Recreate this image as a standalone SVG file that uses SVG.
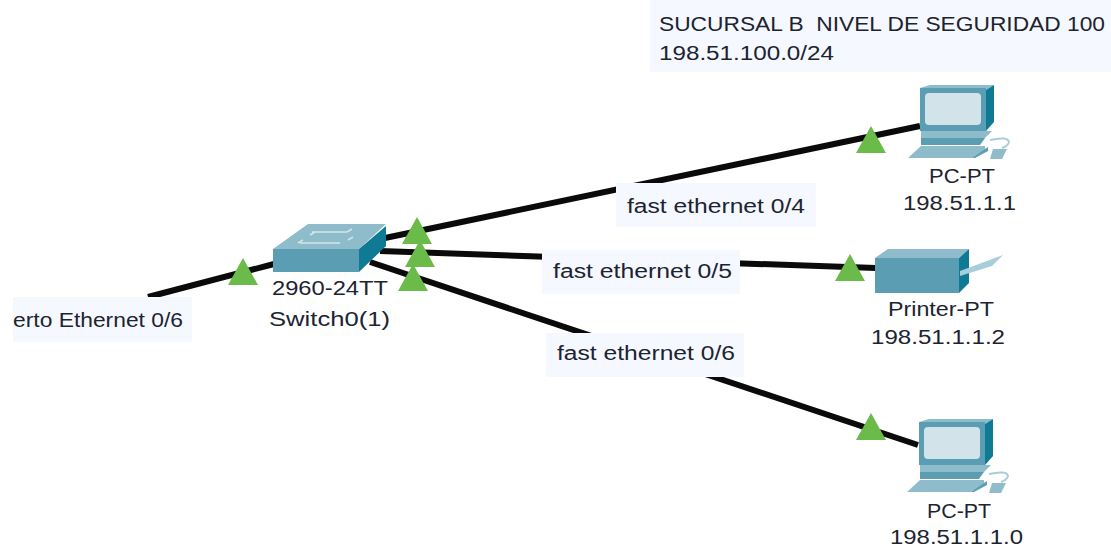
<svg xmlns="http://www.w3.org/2000/svg" width="1111" height="550" viewBox="0 0 1111 550">
<style>
text{font-family:"Liberation Sans",Arial,sans-serif;font-size:20px;fill:#1c2430;white-space:pre}
.lb{fill:#f6f8ff}
.ln{stroke:#0a0a0a;stroke-width:6;fill:none}
.tr{fill:#6bbb4a}
.a{fill:#5b9db2}.b{fill:#8fbccb}.c{fill:#0f7a94}.d{fill:#d3e3ea}.e{fill:#a9cdd9}
</style>
<defs>
<g id="pc">
<path class="b" d="M920 88L930 85H994L986 90Z"/>
<path class="c" d="M986 90L994 85V122L986 131Z"/>
<rect class="a" x="920" y="88" width="66" height="43"/>
<rect class="d" x="925" y="93" width="56" height="32" rx="4"/>
<path class="b" d="M921 131H992L985 138H921Z"/>
<path class="a" d="M921 138H985L980 145H921Z"/>
<path class="b" d="M921 146H985V150L972 158H908Z"/>
<path class="a" d="M972 158L988 147V151L975 158Z"/>
<path d="M990 140Q1008 136 1009 142Q1008 146 1002 148" fill="none" stroke="#a9cdd9" stroke-width="2"/>
<path class="b" d="M993 149H1007L1002 159H990Z"/>
</g>
</defs>
<rect width="1111" height="550" fill="#fff"/>
<rect class="lb" x="650" y="0" width="461" height="72"/>
<g id="connectors">
<path class="ln" d="M148 297L274 264"/>
<path class="ln" d="M385 238L920 126"/>
<path class="ln" d="M380 251L876 268"/>
<path class="ln" d="M370 262L918 445"/>
</g>
<g id="link-lights">
<path class="tr" d="M243 258L258 285H228Z"/>
<path class="tr" d="M417 217L432 244H402Z"/>
<path class="tr" d="M420 240L435 267H405Z"/>
<path class="tr" d="M413 264L428 291H398Z"/>
<path class="tr" d="M871 126L886 153H856Z"/>
<path class="tr" d="M850 254L865 281H835Z"/>
<path class="tr" d="M871 413L886 440H856Z"/>
</g>
<g id="label-0-6-left"><rect class="lb" x="13" y="297" width="179" height="45"/><text x="13" y="327" textLength="170" lengthAdjust="spacingAndGlyphs">erto Ethernet 0/6</text></g>
<g id="label-0-4"><rect class="lb" x="616" y="183" width="200" height="44"/><text x="627" y="213" textLength="178" lengthAdjust="spacingAndGlyphs">fast ethernet 0/4</text></g>
<g id="label-0-5"><rect class="lb" x="542" y="250" width="198" height="44"/><text x="553" y="278" textLength="179" lengthAdjust="spacingAndGlyphs">fast ethernet 0/5</text></g>
<g id="label-0-6"><rect class="lb" x="546" y="333" width="198" height="44"/><text x="557" y="360" textLength="178" lengthAdjust="spacingAndGlyphs">fast ethernet 0/6</text></g>
<g id="switch">
<path class="b" d="M273 249L308 224H386L359 249Z"/>
<rect class="a" x="273" y="249" width="86" height="23"/>
<path class="c" d="M359 249L386 226V246L359 272Z"/>
<path d="M310 235l5-3M347 232l5-3M298 243l5-3M348 240l5-3M312 232h35M300 243h40" stroke="#d3e3ea" stroke-width="1.5" fill="none"/>
<text x="272" y="295" textLength="116" lengthAdjust="spacingAndGlyphs">2960-24TT</text>
<text x="269" y="326" textLength="121" lengthAdjust="spacingAndGlyphs">Switch0(1)</text>
</g>
<g id="pc-top">
<use href="#pc"/>
<text x="929" y="183" textLength="66" lengthAdjust="spacingAndGlyphs">PC-PT</text>
<text x="903" y="210" textLength="113" lengthAdjust="spacingAndGlyphs">198.51.1.1</text>
</g>
<g id="printer">
<path class="b" d="M875 258L888 249H969L959 258Z"/>
<rect class="a" x="875" y="258" width="84" height="35"/>
<path class="c" d="M959 258L969 249V283L959 293Z"/>
<path class="e" d="M960 271L1003 255L992 266L960 276Z"/>
<text x="888" y="316" textLength="106" lengthAdjust="spacingAndGlyphs">Printer-PT</text>
<text x="871" y="344" textLength="134" lengthAdjust="spacingAndGlyphs">198.51.1.1.2</text>
</g>
<g id="pc-bottom">
<use href="#pc" x="-1" y="334"/>
<text x="927" y="518" textLength="64" lengthAdjust="spacingAndGlyphs">PC-PT</text>
<text x="890" y="544" textLength="133" lengthAdjust="spacingAndGlyphs">198.51.1.1.0</text>
</g>
<g id="zone-label">
<text x="659" y="31" textLength="446" lengthAdjust="spacingAndGlyphs">SUCURSAL B  NIVEL DE SEGURIDAD 100</text>
<text x="659" y="60" textLength="175" lengthAdjust="spacingAndGlyphs">198.51.100.0/24</text>
</g>
</svg>
